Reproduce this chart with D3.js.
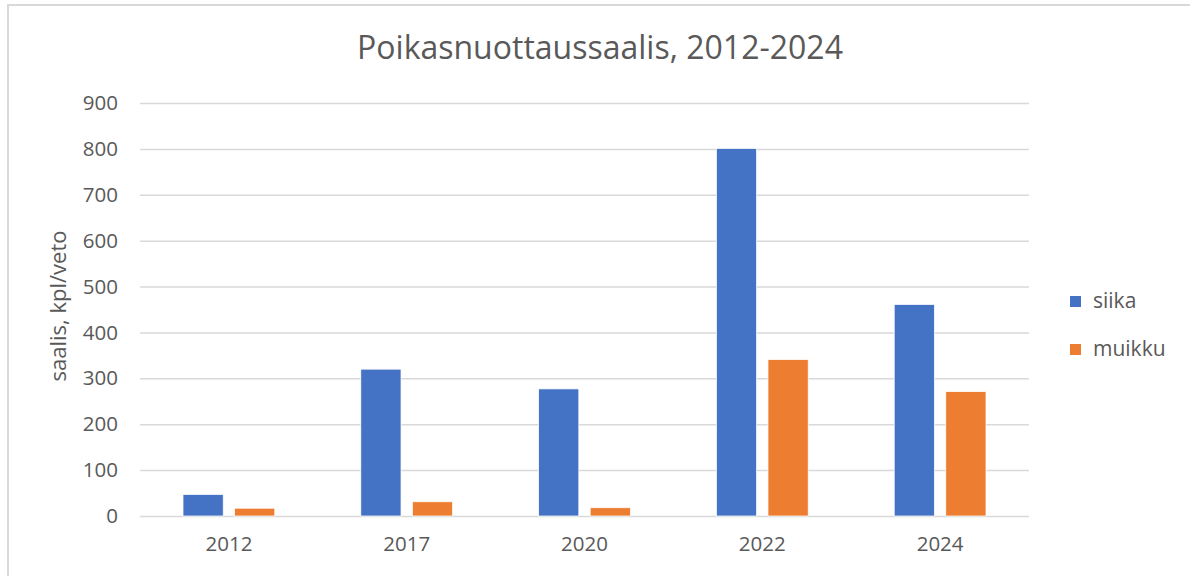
<!DOCTYPE html>
<html>
<head>
<meta charset="utf-8">
<script src="https://cdn.jsdelivr.net/npm/d3@7"></script>
<style>
  body { margin: 0; background: #fff; }
  svg { display: block; font-family: "Open Sans", sans-serif; }
</style>
</head>
<body>
<div class="chart"></div>
<script>
var years = ["2012", "2017", "2020", "2022", "2024"];
var seriesNames = ["siika", "muikku"];
var siika = [47, 320, 277, 801, 461];
var muikku = [17, 31, 18, 341, 271];
var yTicks = [0, 100, 200, 300, 400, 500, 600, 700, 800, 900];

var colors = { siika: "#4472c4", muikku: "#ed7d31" };
var textColor = "#595959";

var width = 1190, height = 576;
var plot = { left: 140, right: 1029, top: 103, bottom: 516 };

var svg = d3.select(".chart").append("svg")
  .attr("width", width)
  .attr("height", height);

// outer chart border (runs off the page right/bottom)
svg.append("rect")
  .attr("x", 8).attr("y", 5)
  .attr("width", width + 10).attr("height", height + 10)
  .attr("fill", "none")
  .attr("stroke", "#d9d9d9")
  .attr("stroke-width", 2);

svg.append("text")
  .attr("x", 600).attr("y", 59)
  .attr("text-anchor", "middle")
  .attr("fill", textColor)
  .style("font-size", "32px")
  .text("Poikasnuottaussaalis, 2012-2024");

var rows = years.map(function (y, i) {
  return { year: y, siika: siika[i], muikku: muikku[i] };
});

var x = d3.scaleBand()
  .domain(years)
  .range([plot.left, plot.right]);

var xs = d3.scaleBand()
  .domain(seriesNames)
  .range([43, x.bandwidth() - 43])
  .paddingInner(0.22);

var y = d3.scaleLinear()
  .domain([0, 900])
  .range([plot.bottom, plot.top]);

// gridlines + y labels
var yAxis = d3.axisLeft(y)
  .tickValues(yTicks)
  .tickSize(-(plot.right - plot.left))
  .tickPadding(22);

var gy = svg.append("g")
  .attr("transform", "translate(" + plot.left + ",0)")
  .call(yAxis);
gy.select(".domain").remove();
gy.selectAll(".tick line").attr("stroke", "#d9d9d9").attr("stroke-width", 1.5);
gy.selectAll(".tick text")
  .attr("fill", textColor)
  .style("font-size", "20.5px")
  .style("font-family", "Open Sans, sans-serif");

var xAxis = d3.axisBottom(x).tickSize(0).tickPadding(20);
var gx = svg.append("g")
  .attr("transform", "translate(0," + plot.bottom + ")")
  .call(xAxis);
gx.select(".domain").remove();
gx.selectAll(".tick text")
  .attr("fill", textColor)
  .style("font-size", "20.5px")
  .style("font-family", "Open Sans, sans-serif");

// bars
var groups = svg.selectAll(".grp")
  .data(rows)
  .enter().append("g")
  .attr("class", "grp")
  .attr("transform", function (d) { return "translate(" + x(d.year) + ",0)"; });

groups.selectAll("rect")
  .data(function (d) { return seriesNames.map(function (s) { return { key: s, value: d[s] }; }); })
  .enter().append("rect")
  .attr("x", function (d) { return xs(d.key); })
  .attr("y", function (d) { return y(d.value); })
  .attr("width", xs.bandwidth())
  .attr("height", function (d) { return y(0) - y(d.value); })
  .attr("fill", function (d) { return colors[d.key]; })
  .attr("stroke", "#fff")
  .attr("stroke-width", 0.75);

// y axis title
svg.append("text")
  .attr("transform", "translate(66,306)rotate(-90)")
  .attr("text-anchor", "middle")
  .attr("fill", textColor)
  .style("font-size", "22px")
  .text("saalis, kpl/veto");

// legend
var legend = svg.selectAll(".leg")
  .data(seriesNames)
  .enter().append("g")
  .attr("class", "leg")
  .attr("transform", function (d, i) { return "translate(1070," + (296 + i * 48) + ")"; });

legend.append("rect")
  .attr("width", 11).attr("height", 11)
  .attr("fill", function (d) { return colors[d]; });

legend.append("text")
  .attr("x", 23).attr("y", 12)
  .attr("fill", textColor)
  .style("font-size", "21px")
  .text(function (d) { return d; });
</script>
</body>
</html>
